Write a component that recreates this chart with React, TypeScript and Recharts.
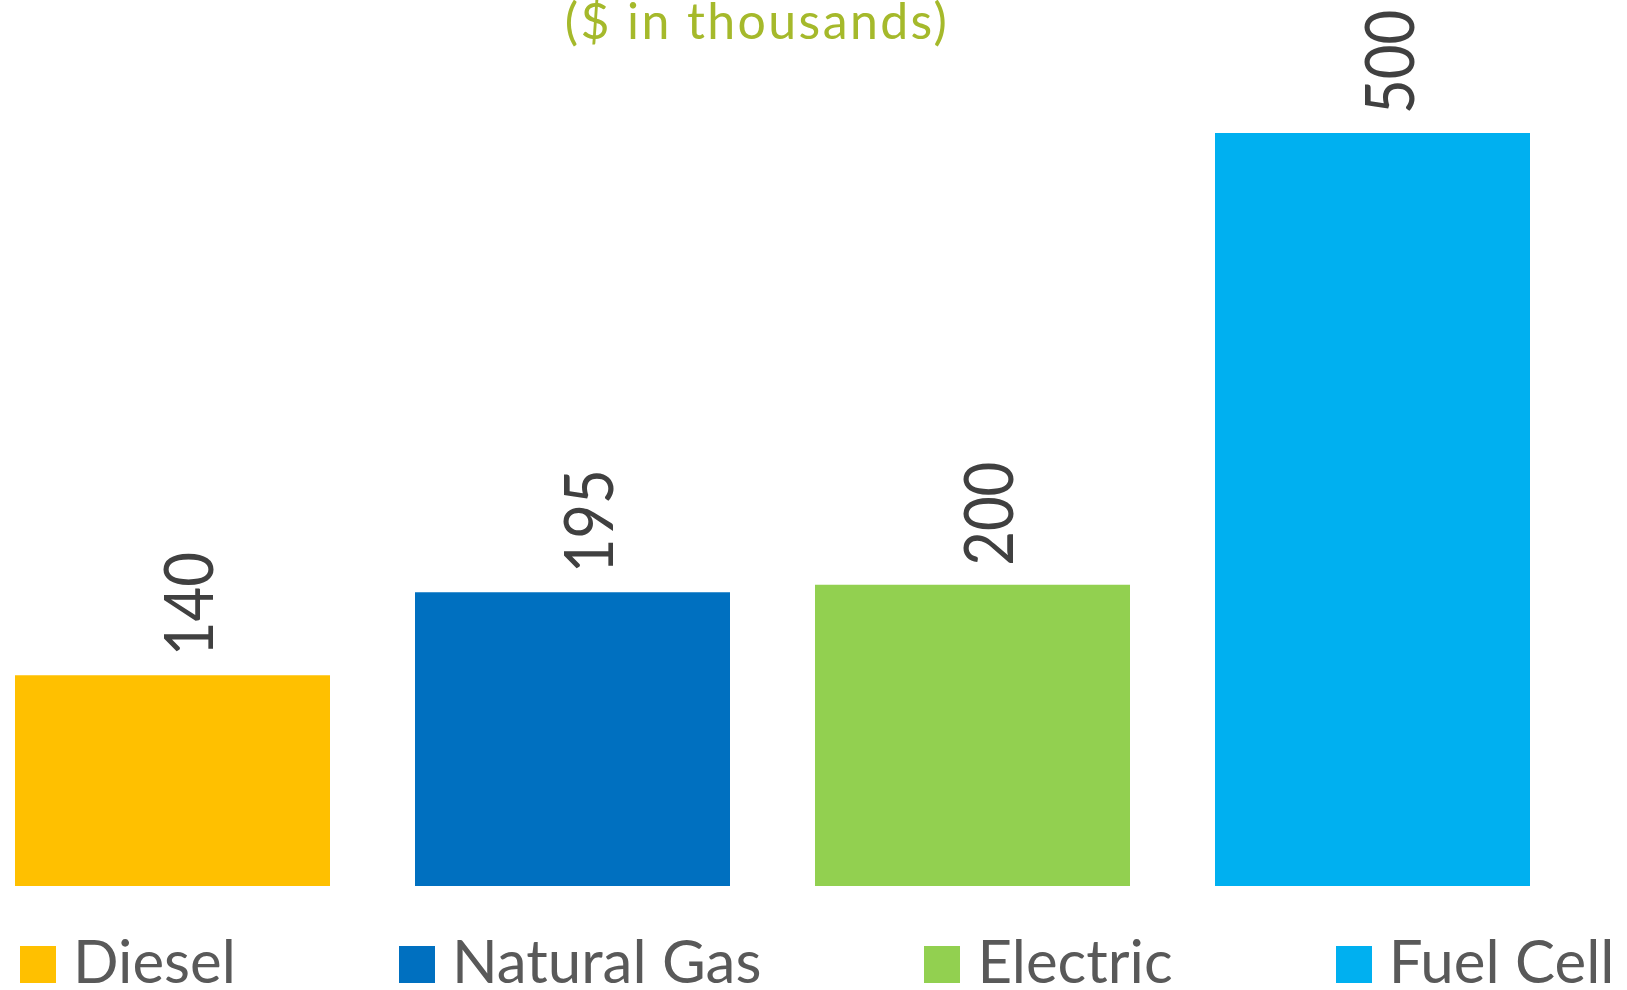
import { BarChart, Bar, XAxis, YAxis, Legend, LabelList } from 'recharts';

const vehicleTypes = ['Diesel', 'Natural Gas', 'Electric', 'Fuel Cell'];
const costs = [140, 195, 200, 500];
const barColors = ['#FFC000', '#0070C0', '#92D050', '#00B0F0'];
const chartTitle = '($ in thousands)';

const row: Record<string, string | number> = { group: 'Cost' };
vehicleTypes.forEach((t, i) => {
  row[t] = costs[i];
});
const chartData = [row];

const FONT = 'Lato, "Open Sans", sans-serif';

// rotated value label sitting just above each bar
const renderValueLabel = (props: any) => {
  const { x, y, width, value } = props;
  const tx = x + width / 2 + 41;
  const ty = y - 19;
  const txt = String(value);
  return (
    <text
      x={tx}
      y={ty}
      transform={`rotate(-90, ${tx}, ${ty})`}
      fontSize={68}
      fontFamily={FONT}
      fill="#404040"
      textAnchor="start"
      textLength={txt.length * 34.7}
      lengthAdjust="spacingAndGlyphs"
    >
      {txt}
    </text>
  );
};

// legend keeps the series order (recharts would sort it by name)
const renderLegend = () => (
  <div
    style={{
      display: 'flex',
      alignItems: 'baseline',
      paddingLeft: 20,
      paddingTop: 49,
      gap: 163,
      whiteSpace: 'nowrap',
    }}
  >
    {vehicleTypes.map((t, i) => (
      <div key={t} style={{ display: 'flex', alignItems: 'baseline', flexShrink: 0 }}>
        <span style={{ display: 'inline-block', width: 36, height: 37, background: barColors[i], marginRight: 17 }} />
        <span style={{ fontFamily: FONT, fontSize: 60, lineHeight: '50px', color: '#595959' }}>{t}</span>
      </div>
    ))}
  </div>
);

export default function App() {
  return (
    <div style={{ position: 'absolute', left: 0, top: 0, width: 1627, height: 990, background: '#fff' }}>
      <div
        style={{
          position: 'absolute',
          left: 457,
          width: 600,
          top: 0,
          textAlign: 'center',
          fontFamily: FONT,
          fontSize: 50,
          lineHeight: '40px',
          letterSpacing: 2.4,
          color: '#A5B92B',
        }}
      >
        {chartTitle}
      </div>
      <BarChart
        width={1627}
        height={990}
        data={chartData}
        margin={{ top: 133, right: 97, left: 14, bottom: 0 }}
        barCategoryGap={0}
        barGap={85}
      >
        <XAxis dataKey="group" hide />
        <YAxis hide domain={[0, 500]} />
        <Legend
          verticalAlign="bottom"
          content={renderLegend}
          wrapperStyle={{ left: 0, width: 1627, height: 104 }}
        />
        {vehicleTypes.map((t, i) => (
          <Bar key={t} dataKey={t} name={t} fill={barColors[i]} barSize={315} isAnimationActive={false}>
            <LabelList dataKey={t} content={renderValueLabel} />
          </Bar>
        ))}
      </BarChart>
    </div>
  );
}
